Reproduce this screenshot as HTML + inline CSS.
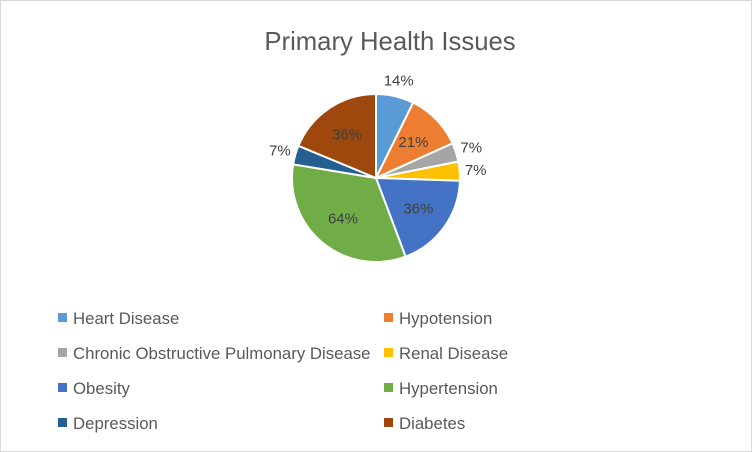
<!DOCTYPE html>
<html><head><meta charset="utf-8"><style>
body{margin:0;background:#fff;}
svg{display:block;font-family:"Liberation Sans",sans-serif;}
</style></head><body>
<svg id="chart" width="752" height="452">
<rect x="0.5" y="0.5" width="751" height="451" fill="#fff" stroke="#d9d9d9"/>
<text x="390" y="50" text-anchor="middle" font-size="25.7" fill="#595959">Primary Health Issues</text>
<g id="slices"></g><g id="labels"></g><g id="legend"></g>
</svg>
<script>
const categories=["Heart Disease","Hypotension","Chronic Obstructive Pulmonary Disease","Renal Disease","Obesity","Hypertension","Depression","Diabetes"];
const values=[14,21,7,7,36,64,7,36];
const valueLabels=["14%","21%","7%","7%","36%","64%","7%","36%"];
const colors=["#5B9BD5","#ED7D31","#A5A5A5","#FFC000","#4472C4","#70AD47","#255E91","#9E480E"];
const labelOutside=[true,false,true,true,false,false,true,false];
const ns="http://www.w3.org/2000/svg";
const cx=376,cy=178,R=84;
const total=values.reduce((a,b)=>a+b,0);
const sg=document.getElementById('slices'),lg=document.getElementById('labels'),leg=document.getElementById('legend');
function pt(a,r){return [cx+r*Math.sin(a),cy-r*Math.cos(a)];}
let a0=0;
values.forEach((v,i)=>{
 const a1=a0+v/total*2*Math.PI;
 const p0=pt(a0,R),p1=pt(a1,R);
 const p=document.createElementNS(ns,'path');
 p.setAttribute('d',`M${cx},${cy}L${p0[0]},${p0[1]}A${R},${R} 0 ${a1-a0>Math.PI?1:0} 1 ${p1[0]},${p1[1]}Z`);
 p.setAttribute('fill',colors[i]);p.setAttribute('stroke','#fff');p.setAttribute('stroke-width','2');
 
 
 sg.appendChild(p);
 const am=(a0+a1)/2;
 const lp=pt(am,labelOutside[i]?R+16:R*0.62);
 const t=document.createElementNS(ns,'text');
 t.setAttribute('x',lp[0]);t.setAttribute('y',lp[1]+5);
 t.setAttribute('text-anchor','middle');t.setAttribute('font-size','15');t.setAttribute('fill','#404040');
 t.textContent=valueLabels[i];
 
 
 lg.appendChild(t);
 const col=i%2,row=Math.floor(i/2);
 const lx=col?384:58,ly=318+row*35;
 const r=document.createElementNS(ns,'rect');
 r.setAttribute('x',lx);r.setAttribute('y',ly-5);r.setAttribute('width',9);r.setAttribute('height',9);r.setAttribute('fill',colors[i]);
 
 
 leg.appendChild(r);
 const lt=document.createElementNS(ns,'text');
 lt.setAttribute('x',lx+15);lt.setAttribute('y',ly+6);lt.setAttribute('font-size','16.8');lt.setAttribute('fill','#595959');
 lt.textContent=categories[i];
 
 
 leg.appendChild(lt);
 a0=a1;
});
</script>
</body></html>
